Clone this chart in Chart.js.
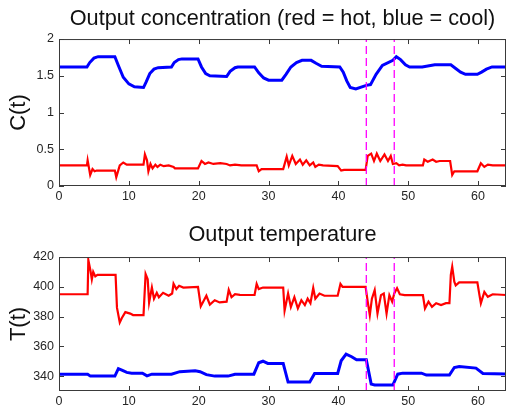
<!DOCTYPE html>
<html>
<head>
<meta charset="utf-8">
<script src="https://cdn.jsdelivr.net/npm/chart.js@4"></script>
<style>
  body { margin: 0; background: #fff; }
  .box { position: absolute; left: 0; width: 506px; height: 204px; }
</style>
</head>
<body>
<div class="box" style="top:0"><canvas id="concChart" width="506" height="204"></canvas></div>
<div class="box" style="top:204px"><canvas id="tempChart" width="506" height="204"></canvas></div>
<script>
// time axis
const xTicks = [0, 10, 20, 30, 40, 50, 60]
const cTicks = [0, 0.5, 1, 1.5, 2]
const tTicks = [340, 360, 380, 400, 420]
const switchTimes = [44, 48]

// [time, value]
const blueConc = [[0,1.62],[4.0,1.62],[4.4,1.68],[5.0,1.74],[5.6,1.76],[8.0,1.76],[8.5,1.64],[9.2,1.48],[10.0,1.39],[10.8,1.35],[12.1,1.34],[12.5,1.42],[13.0,1.53],[13.6,1.59],[14.2,1.61],[16.1,1.62],[16.5,1.68],[17.1,1.72],[17.6,1.73],[19.9,1.73],[20.4,1.62],[21.0,1.53],[21.6,1.5],[24.0,1.49],[24.5,1.56],[25.2,1.61],[25.6,1.62],[28.0,1.62],[28.6,1.54],[29.3,1.47],[30.0,1.44],[31.9,1.44],[32.5,1.52],[33.2,1.62],[34.0,1.68],[34.8,1.71],[36.1,1.71],[36.8,1.67],[37.6,1.63],[40.2,1.62],[40.7,1.55],[41.2,1.43],[41.7,1.34],[42.5,1.32],[44.0,1.37],[44.6,1.38],[45.4,1.52],[46.3,1.64],[47.8,1.71],[48.3,1.76],[48.9,1.72],[49.6,1.65],[50.2,1.62],[52.0,1.62],[53.8,1.65],[56.1,1.65],[56.8,1.6],[57.5,1.55],[58.2,1.52],[59.9,1.52],[60.5,1.55],[61.2,1.59],[62.0,1.62],[64,1.62]]
const redConc = [[0,0.28],[4.0,0.28],[4.1,0.35],[4.47,0.15],[4.8,0.23],[5.1,0.2],[5.4,0.21],[8.0,0.21],[8.2,0.12],[8.7,0.28],[9.2,0.32],[9.7,0.29],[12.1,0.29],[12.3,0.43],[12.6,0.35],[12.8,0.2],[13.1,0.3],[13.4,0.24],[13.8,0.29],[14.1,0.26],[14.5,0.29],[15.0,0.27],[15.7,0.28],[16.4,0.26],[16.6,0.24],[19.9,0.24],[20.4,0.34],[20.9,0.3],[21.4,0.32],[22.1,0.3],[23.1,0.31],[24.0,0.3],[24.5,0.28],[25.2,0.29],[26.1,0.28],[28.3,0.28],[28.6,0.2],[29.0,0.23],[32.1,0.23],[32.6,0.4],[32.9,0.28],[33.4,0.41],[33.9,0.3],[34.5,0.36],[34.9,0.29],[35.4,0.35],[35.9,0.28],[36.4,0.32],[36.7,0.26],[37.2,0.29],[37.8,0.28],[39.9,0.27],[40.4,0.21],[40.8,0.22],[43.9,0.22],[44.2,0.41],[44.7,0.44],[45.1,0.34],[45.5,0.44],[46.0,0.34],[46.6,0.43],[47.1,0.34],[47.5,0.41],[47.8,0.3],[48.3,0.31],[48.7,0.28],[49.2,0.29],[49.7,0.28],[52.1,0.28],[52.3,0.36],[52.8,0.33],[53.5,0.36],[54.0,0.33],[54.5,0.34],[56.0,0.34],[56.3,0.15],[56.6,0.2],[59.9,0.2],[60.4,0.31],[60.9,0.26],[61.4,0.29],[62.1,0.28],[64,0.28]]
const redTemp = [[0,395],[4.1,395],[4.2,418],[4.5,411],[4.7,405],[4.9,410],[5.2,407],[5.5,408],[8.1,408],[8.3,386],[8.7,376],[9.0,379],[9.5,383],[10.2,382],[10.6,381],[12.1,381],[12.4,408.5],[12.7,405],[12.9,389.5],[13.3,399.5],[13.6,392],[14.0,396],[14.3,393],[14.9,396],[15.7,394],[16.2,395.5],[16.4,402],[16.8,398.5],[17.2,400.7],[17.8,399.5],[19.9,400],[20.3,387],[20.7,390.5],[21.1,394],[21.6,388],[22.3,391],[23.0,389.5],[24.0,390],[24.3,398],[24.7,393],[25.2,395],[25.9,394.6],[28.0,394.5],[28.3,402],[28.6,398.5],[29.2,399.5],[32.1,399.5],[32.3,384],[32.8,395.5],[33.2,386.5],[33.7,393],[34.2,385.5],[34.7,391],[35.2,387.7],[35.6,392],[36.0,389],[36.4,399.3],[36.7,392],[37.3,395.5],[38.0,394],[39.9,394],[40.3,402],[40.6,400],[43.9,400],[44.2,390],[44.5,381],[44.8,392],[45.2,397.8],[45.6,382],[46.1,394.4],[46.5,395.5],[46.9,382],[47.3,394.4],[47.7,390],[48.0,395.5],[48.4,399],[48.8,395],[49.5,394.4],[52.1,394.5],[52.4,385.4],[52.9,390],[53.4,386.5],[54.0,389],[54.7,387.7],[55.4,389],[55.9,389],[56.1,408],[56.3,413.5],[56.6,403.4],[56.8,401],[57.3,403],[59.9,403],[60.2,394.4],[60.4,389],[60.9,396.6],[61.4,393.3],[62.1,395],[64,394.5]]
const blueTemp = [[0,341.3],[4.1,341.3],[4.5,340],[8.0,340],[8.5,345],[9.0,344],[9.7,342.5],[10.4,342],[11.95,342],[12.6,340.2],[13.3,341.3],[16.1,341.3],[17.3,343],[19.5,343.6],[20.2,343],[21.1,341],[22.3,340],[24.2,340],[25.2,341.3],[27.9,341.3],[28.6,349],[29.2,350],[29.9,348.5],[32.1,348.5],[32.8,336],[35.9,336],[36.6,341.8],[39.9,341.8],[40.4,350.3],[41.1,354.8],[41.9,353],[42.6,351],[44.0,351],[44.7,334.6],[45.2,334],[47.8,334],[48.5,341.3],[49.2,342],[51.9,342],[52.6,340.7],[55.9,340.7],[56.6,345.8],[57.3,346.5],[59.7,345.4],[60.7,341.8],[64,341.5]]

const textColor = '#262626'
const frameColor = '#3a3a3a'
const fontFamily = 'Arial, "Liberation Sans", sans-serif'

const toXY = (pts) => pts.map((p) => ({ x: p[0], y: p[1] }))

// MATLAB-like box with inward ticks on all four sides
const boxTicks = {
  id: 'boxTicks',
  afterDatasetsDraw(chart) {
    const { ctx, chartArea: a, scales } = chart
    ctx.save()
    ctx.strokeStyle = frameColor
    ctx.lineWidth = 1
    ctx.strokeRect(a.left + 0.5, a.top + 0.5, a.width - 1, a.height - 1)
    ctx.beginPath()
    scales.x.ticks.forEach((t) => {
      const px = Math.round(scales.x.getPixelForValue(t.value)) + 0.5
      ctx.moveTo(px, a.bottom)
      ctx.lineTo(px, a.bottom - 5)
      ctx.moveTo(px, a.top)
      ctx.lineTo(px, a.top + 5)
    })
    scales.y.ticks.forEach((t) => {
      const py = Math.round(scales.y.getPixelForValue(t.value)) + 0.5
      ctx.moveTo(a.left, py)
      ctx.lineTo(a.left + 5, py)
      ctx.moveTo(a.right, py)
      ctx.lineTo(a.right - 5, py)
    })
    ctx.stroke()
    ctx.restore()
  },
}

function makeChart(id, opts) {
  const [yMin, yMax] = opts.range
  const marker = (t) => ({
    data: [{ x: t, y: yMin }, { x: t, y: yMax }],
    borderColor: '#ff00ff',
    borderWidth: 1.3,
    borderDash: [8, 4],
  })
  return new Chart(document.getElementById(id), {
    type: 'scatter',
    data: {
      datasets: [
        ...switchTimes.map(marker),
        { data: toXY(opts.red), borderColor: '#ff0000', borderWidth: 2.2 },
        { data: toXY(opts.blue), borderColor: '#0000ff', borderWidth: 3 },
      ],
    },
    options: {
      responsive: false,
      animation: false,
      showLine: true,
      elements: { point: { radius: 0 }, line: { tension: 0 } },
      plugins: {
        legend: { display: false },
        tooltip: { enabled: false },
        title: {
          display: true,
          text: opts.title,
          fullSize: false,
          color: '#111',
          font: { family: fontFamily, size: 21.7, weight: 'normal' },
          padding: opts.titlePad,
        },
      },
      scales: {
        x: {
          type: 'linear',
          min: 0,
          max: 64,
          grid: { display: false, drawTicks: false },
          border: { display: false },
          afterBuildTicks: (s) => { s.ticks = xTicks.map((v) => ({ value: v })) },
          afterFit: (s) => { s.height = opts.xHeight },
          ticks: { color: textColor, padding: 3, font: { family: fontFamily, size: 12.5 } },
        },
        y: {
          min: yMin,
          max: yMax,
          grid: { display: false, drawTicks: false },
          border: { display: false },
          afterBuildTicks: (s) => { s.ticks = opts.yTicks.map((v) => ({ value: v })) },
          afterFit: (s) => { s.width = 59 },
          ticks: {
            color: textColor,
            padding: 5,
            font: { family: fontFamily, size: 12.5 },
            callback: (v) => String(v),
          },
          title: {
            display: true,
            text: opts.yLabel,
            color: '#111',
            padding: { top: 6, bottom: 0 },
            font: { family: fontFamily, size: 22 },
          },
        },
      },
    },
    plugins: [boxTicks],
  })
}

makeChart('concChart', {
  title: 'Output concentration (red = hot, blue = cool)',
  yLabel: 'C(t)',
  range: [0, 2],
  yTicks: cTicks,
  red: redConc,
  blue: blueConc,
  titlePad: { top: 6, bottom: 7 },
  xHeight: 18,
})

makeChart('tempChart', {
  title: 'Output temperature',
  yLabel: 'T(t)',
  range: [330, 420],
  yTicks: tTicks,
  red: redTemp,
  blue: blueTemp,
  titlePad: { top: 18, bottom: 9 },
  xHeight: 17,
})
</script>
</body>
</html>
